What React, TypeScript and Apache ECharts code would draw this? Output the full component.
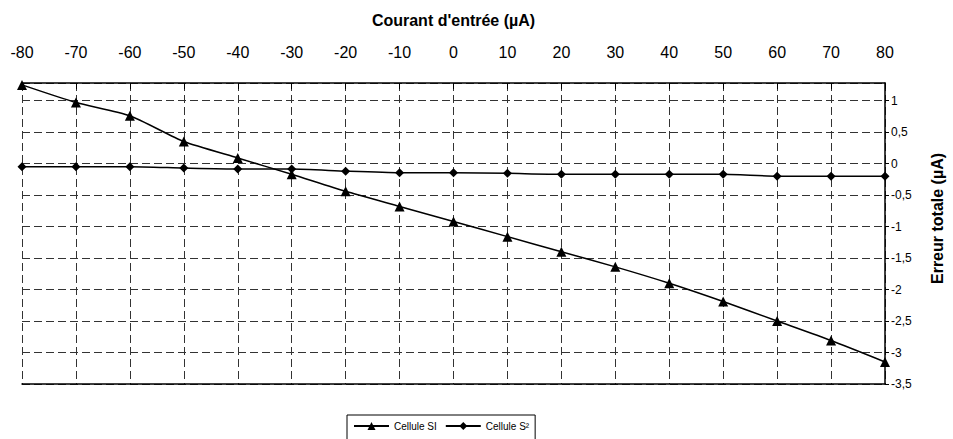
import React, { useEffect, useRef } from "react";
import * as echarts from "echarts";

const currents = [-80, -70, -60, -50, -40, -30, -20, -10, 0, 10, 20, 30, 40, 50, 60, 70, 80];
const celluleSI = [1.25, 0.97, 0.76, 0.35, 0.09, -0.17, -0.44, -0.68, -0.92, -1.16, -1.4, -1.64, -1.9, -2.19, -2.5, -2.81, -3.15];
const celluleS2 = [-0.05, -0.05, -0.05, -0.07, -0.085, -0.085, -0.12, -0.145, -0.145, -0.155, -0.17, -0.17, -0.17, -0.17, -0.2, -0.2, -0.2];
const seriesNames = ["Cellule SI", "Cellule S²"];

const FONT = '"Liberation Sans", Arial, sans-serif';

export default function App() {
  const ref = useRef<HTMLDivElement>(null);
  useEffect(() => {
    if (!ref.current) return;
    const chart = echarts.init(ref.current, null, { renderer: "svg" });
    const pairs = (ys: number[]) => currents.map((x, i) => [x, ys[i]]);
    const fmt = (v: number) => String(v).replace(".", ",");
    chart.setOption({
      animation: false,
      backgroundColor: "#fff",
      textStyle: { fontFamily: FONT, color: "#000" },
      grid: { left: 22, right: 65, top: 83, bottom: 55 },
      legend: {
        data: seriesNames,
        left: 347,
        top: 415,
        itemWidth: 35,
        itemHeight: 10,
        itemGap: 8,
        padding: [6, 6, 12, 6],
        borderColor: "#000",
        borderWidth: 1,
        textStyle: { fontSize: 10, fontFamily: FONT, color: "#000" },
      },
      xAxis: [
        {
          type: "value",
          position: "top",
          min: -80,
          max: 80,
          interval: 10,
          name: "Courant d'entrée (µA)",
          nameLocation: "middle",
          nameGap: 55,
          nameTextStyle: { fontSize: 16, fontWeight: "bold", fontFamily: FONT, color: "#000" },
          axisLine: { show: true, onZero: false, lineStyle: { color: "#000", width: 1.5 } },
          axisTick: { show: true, inside: true, length: 6, lineStyle: { color: "#000" } },
          axisLabel: { fontSize: 16, margin: 23, color: "#000", fontFamily: FONT },
          splitLine: { show: true, lineStyle: { color: "#333", type: [8, 4], width: 1 } },
        },
        {
          type: "value",
          position: "bottom",
          min: -80,
          max: 80,
          interval: 10,
          axisLine: { show: true, onZero: false, lineStyle: { color: "#000", width: 1.5 } },
          axisTick: { show: false },
          axisLabel: { show: false },
          splitLine: { show: false },
        },
      ],
      yAxis: {
        type: "value",
        position: "right",
        min: -3.5,
        max: 1.28,
        interval: 0.5,
        name: "Erreur totale (µA)",
        nameLocation: "middle",
        nameRotate: 90,
        nameGap: 44,
        nameTextStyle: {
          fontSize: 16,
          fontWeight: "bold",
          fontFamily: FONT,
          color: "#000",
          padding: [0, 0, 0, 30],
        },
        axisLine: { show: true, onZero: false, lineStyle: { color: "#000", width: 1.5 } },
        axisTick: { show: true, inside: false, length: 4, lineStyle: { color: "#000" } },
        axisLabel: {
          fontSize: 12,
          margin: 6,
          color: "#000",
          fontFamily: FONT,
          showMaxLabel: false,
          formatter: (v: number) => (v > 1.01 ? "" : fmt(v)),
        },
        splitLine: { show: true, lineStyle: { color: "#333", type: [8, 4], width: 1 } },
      },
      series: [
        {
          name: seriesNames[0],
          type: "line",
          xAxisIndex: 0,
          data: pairs(celluleSI),
          smooth: 0.2,
          symbol: "triangle",
          symbolSize: 10,
          lineStyle: { color: "#000", width: 1.5 },
          itemStyle: { color: "#000" },
        },
        {
          name: seriesNames[1],
          type: "line",
          xAxisIndex: 0,
          data: pairs(celluleS2),
          smooth: 0.2,
          symbol: "diamond",
          symbolSize: 9,
          lineStyle: { color: "#000", width: 1.5 },
          itemStyle: { color: "#000" },
        },
      ],
    });
    return () => chart.dispose();
  }, []);
  return (
    <div
      ref={ref}
      style={{ position: "fixed", left: 0, top: 0, width: 953, height: 439, background: "#fff" }}
    />
  );
}
